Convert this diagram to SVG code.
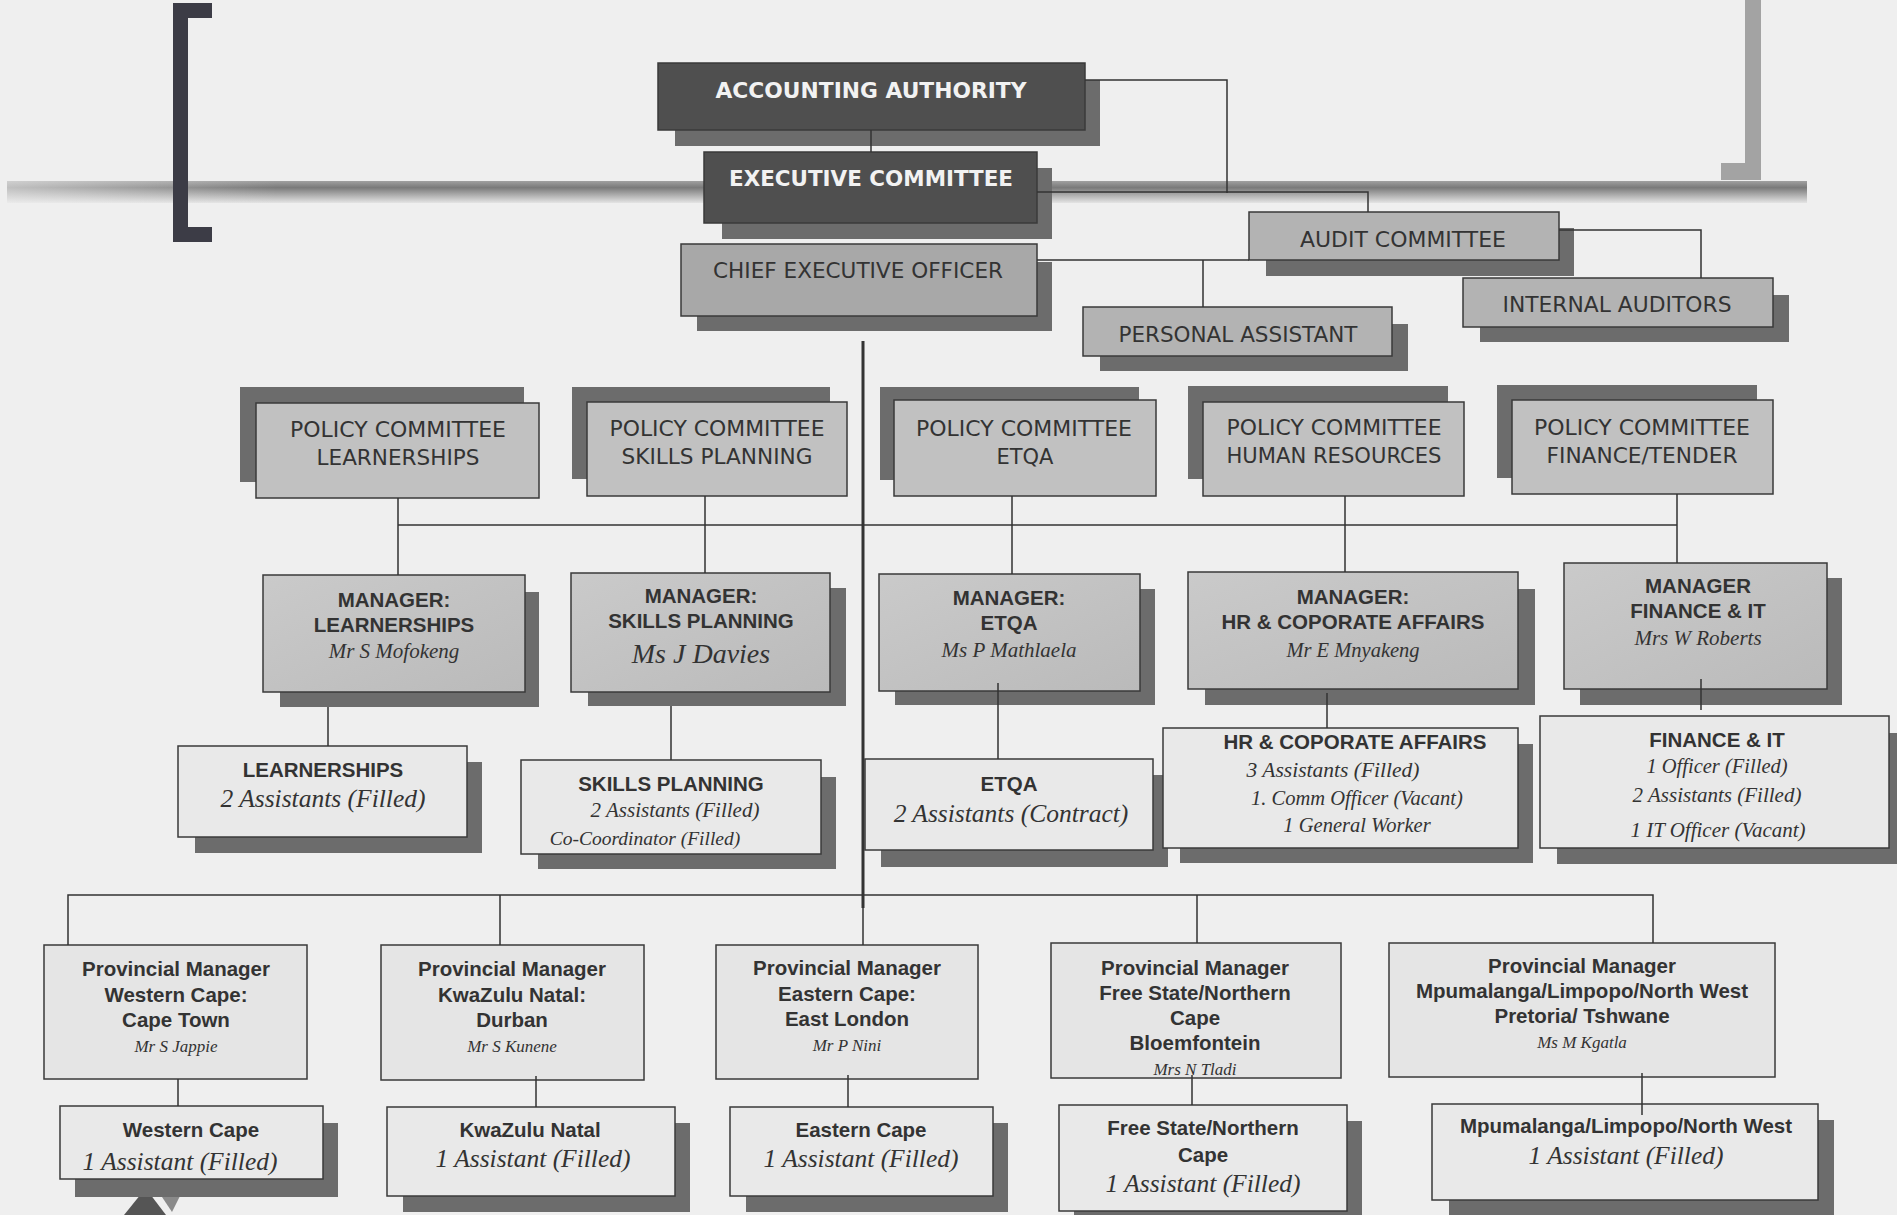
<svg xmlns="http://www.w3.org/2000/svg" width="1897" height="1215" viewBox="0 0 1897 1215">
<defs>
<linearGradient id="barG" x1="0" y1="0" x2="0" y2="1">
<stop offset="0" stop-color="#a0a0a0"/><stop offset="0.3" stop-color="#7a7a7a"/><stop offset="1" stop-color="#e4e4e4"/>
</linearGradient>
<linearGradient id="barFade" x1="0" y1="0" x2="1" y2="0">
<stop offset="0" stop-color="#efefef" stop-opacity="0.6"/><stop offset="0.15" stop-color="#efefef" stop-opacity="0"/>
</linearGradient>
<linearGradient id="mgG" x1="0" y1="0" x2="1" y2="1">
<stop offset="0" stop-color="#cacaca"/><stop offset="1" stop-color="#bababa"/>
</linearGradient>
<style>
.sh{fill:#6c6c6c}
.box{stroke:#3a3a3a;stroke-width:1.5}
.dk{fill:#4f4f4f}
.md{fill:#a8a8a8}
.au{fill:#b3b3b3}
.pc{fill:#c1c1c1}
.mg{fill:url(#mgG)}
.st{fill:#e9e9e9}
.pm{fill:#e5e5e5}
.tw{font-family:"DejaVu Sans","Liberation Sans",sans-serif;font-weight:bold;font-size:22px;fill:#f2f2f2;text-anchor:middle}
.tc{font-family:"DejaVu Sans","Liberation Sans",sans-serif;font-size:22px;fill:#333;text-anchor:middle}
.tb{font-family:"Liberation Sans",Arial,sans-serif;font-weight:bold;font-size:20.5px;fill:#333;text-anchor:middle}
.tp{font-family:"Liberation Sans",Arial,sans-serif;font-weight:bold;font-size:20.5px;fill:#333;text-anchor:middle}
.ti{font-family:"Liberation Serif","Times New Roman",serif;font-style:italic;fill:#333;text-anchor:middle}
.ln{fill:none;stroke:#333;stroke-width:1.5}
</style>
</defs>
<rect x="0" y="0" width="1897" height="1215" fill="#efefef"/>
<g id="decor">
<rect x="7" y="181" width="1800" height="22" fill="url(#barG)"/>
<rect x="7" y="181" width="1800" height="22" fill="url(#barFade)"/>
<path d="M173 3H212V18H188V227H212V242H173Z" fill="#3c3c46"/>
<path d="M1745 0H1761V180H1721V163H1745Z" fill="#a3a3a3"/>
<polygon points="141,1194 124,1215 166,1215 150,1194" fill="#555"/>
<polygon points="160,1194 181,1194 172,1212" fill="#8a8a8a"/>
</g>

<g id="n-aa">
<rect class="sh" x="675" y="80" width="425" height="66"/>
<rect class="box dk" x="658" y="63" width="427" height="67"/>
<text class="tw" x="871" y="98" textLength="311" lengthAdjust="spacingAndGlyphs">ACCOUNTING AUTHORITY</text>
</g>
<g id="n-ec">
<rect class="sh" x="722" y="168" width="330" height="71"/>
<rect class="box dk" x="704" y="152" width="333" height="71"/>
<text class="tw" x="871" y="186" textLength="284" lengthAdjust="spacingAndGlyphs">EXECUTIVE COMMITTEE</text>
</g>
<g id="n-ceo">
<rect class="sh" x="697" y="262" width="355" height="69"/>
<rect class="box md" x="681" y="244" width="356" height="72"/>
<text class="tc" x="858" y="278" textLength="290" lengthAdjust="spacingAndGlyphs">CHIEF EXECUTIVE OFFICER</text>
</g>
<g id="n-audit">
<rect class="sh" x="1266" y="228" width="308" height="48"/>
<rect class="box au" x="1249" y="212" width="310" height="48"/>
<text class="tc" x="1403" y="247" textLength="206" lengthAdjust="spacingAndGlyphs">AUDIT COMMITTEE</text>
</g>
<g id="n-ia">
<rect class="sh" x="1480" y="295" width="309" height="47"/>
<rect class="box au" x="1463" y="278" width="310" height="49"/>
<text class="tc" x="1617" y="312" textLength="229" lengthAdjust="spacingAndGlyphs">INTERNAL AUDITORS</text>
</g>
<g id="n-pa">
<rect class="sh" x="1100" y="324" width="308" height="47"/>
<rect class="box au" x="1083" y="307" width="309" height="49"/>
<text class="tc" x="1238" y="342" textLength="239" lengthAdjust="spacingAndGlyphs">PERSONAL ASSISTANT</text>
</g>

<g id="n-pc-learn">
<rect class="sh" x="240" y="387" width="284" height="95"/>
<rect class="box pc" x="256" y="403" width="283" height="95"/>
<text class="tc" x="398" y="437" textLength="216" lengthAdjust="spacingAndGlyphs">POLICY COMMITTEE</text>
<text class="tc" x="398" y="465" textLength="163" lengthAdjust="spacingAndGlyphs">LEARNERSHIPS</text>
</g>
<g id="n-pc-skills">
<rect class="sh" x="572" y="387" width="258" height="92"/>
<rect class="box pc" x="587" y="402" width="260" height="94"/>
<text class="tc" x="717" y="436" textLength="215" lengthAdjust="spacingAndGlyphs">POLICY COMMITTEE</text>
<text class="tc" x="717" y="464" textLength="191" lengthAdjust="spacingAndGlyphs">SKILLS PLANNING</text>
</g>
<g id="n-pc-etqa">
<rect class="sh" x="880" y="387" width="259" height="93"/>
<rect class="box pc" x="894" y="400" width="262" height="96"/>
<text class="tc" x="1024" y="436" textLength="216" lengthAdjust="spacingAndGlyphs">POLICY COMMITTEE</text>
<text class="tc" x="1025" y="464" textLength="57" lengthAdjust="spacingAndGlyphs">ETQA</text>
</g>
<g id="n-pc-hr">
<rect class="sh" x="1188" y="386" width="260" height="93"/>
<rect class="box pc" x="1203" y="402" width="261" height="94"/>
<text class="tc" x="1334" y="435" textLength="215" lengthAdjust="spacingAndGlyphs">POLICY COMMITTEE</text>
<text class="tc" x="1334" y="463" textLength="215" lengthAdjust="spacingAndGlyphs">HUMAN RESOURCES</text>
</g>
<g id="n-pc-fin">
<rect class="sh" x="1497" y="385" width="260" height="93"/>
<rect class="box pc" x="1512" y="400" width="261" height="94"/>
<text class="tc" x="1642" y="435" textLength="216" lengthAdjust="spacingAndGlyphs">POLICY COMMITTEE</text>
<text class="tc" x="1642" y="463" textLength="191" lengthAdjust="spacingAndGlyphs">FINANCE/TENDER</text>
</g>

<g id="n-m-learn">
<rect class="sh" x="280" y="592" width="259" height="115"/>
<rect class="box mg" x="263" y="575" width="262" height="117"/>
<text class="tb" x="394" y="607">MANAGER:</text>
<text class="tb" x="394" y="632">LEARNERSHIPS</text>
<text class="ti" x="394" y="658" font-size="21">Mr S Mofokeng</text>
</g>
<g id="n-m-skills">
<rect class="sh" x="588" y="588" width="258" height="118"/>
<rect class="box mg" x="571" y="573" width="259" height="119"/>
<text class="tb" x="701" y="603">MANAGER:</text>
<text class="tb" x="701" y="628">SKILLS PLANNING</text>
<text class="ti" x="701" y="663" font-size="28">Ms J Davies</text>
</g>
<g id="n-m-etqa">
<rect class="sh" x="895" y="589" width="260" height="116"/>
<rect class="box mg" x="879" y="574" width="261" height="117"/>
<text class="tb" x="1009" y="605">MANAGER:</text>
<text class="tb" x="1009" y="630">ETQA</text>
<text class="ti" x="1009" y="657" font-size="21">Ms P Mathlaela</text>
</g>
<g id="n-m-hr">
<rect class="sh" x="1205" y="589" width="330" height="116"/>
<rect class="box mg" x="1188" y="572" width="330" height="117"/>
<text class="tb" x="1353" y="604">MANAGER:</text>
<text class="tb" x="1353" y="629">HR &amp; COPORATE AFFAIRS</text>
<text class="ti" x="1353" y="657" font-size="20.5">Mr E Mnyakeng</text>
</g>
<g id="n-m-fin">
<rect class="sh" x="1580" y="578" width="262" height="127"/>
<rect class="box mg" x="1564" y="563" width="263" height="126"/>
<text class="tb" x="1698" y="593">MANAGER</text>
<text class="tb" x="1698" y="618">FINANCE &amp; IT</text>
<text class="ti" x="1698" y="645" font-size="21">Mrs W Roberts</text>
</g>

<g id="n-s-learn">
<rect class="sh" x="195" y="762" width="287" height="91"/>
<rect class="box st" x="178" y="746" width="289" height="91"/>
<text class="tb" x="323" y="777">LEARNERSHIPS</text>
<text class="ti" x="323" y="807" font-size="25.5">2 Assistants (Filled)</text>
</g>
<g id="n-s-skills">
<rect class="sh" x="538" y="777" width="298" height="92"/>
<rect class="box st" x="521" y="760" width="300" height="94"/>
<text class="tb" x="671" y="791">SKILLS PLANNING</text>
<text class="ti" x="675" y="817" font-size="21">2 Assistants (Filled)</text>
<text class="ti" x="645" y="845" font-size="19.5">Co-Coordinator (Filled)</text>
</g>
<g id="n-s-etqa">
<rect class="sh" x="881" y="775" width="287" height="92"/>
<rect class="box st" x="865" y="759" width="288" height="91"/>
<text class="tb" x="1009" y="791">ETQA</text>
<text class="ti" x="1011" y="822" font-size="25.5">2 Assistants (Contract)</text>
</g>
<g id="n-s-hr">
<rect class="sh" x="1180" y="744" width="353" height="119"/>
<rect class="box st" x="1163" y="728" width="355" height="120"/>
<text class="tb" x="1355" y="749">HR &amp; COPORATE AFFAIRS</text>
<text class="ti" x="1333" y="777" font-size="21.5">3 Assistants (Filled)</text>
<text class="ti" x="1357" y="805" font-size="20.5">1. Comm Officer (Vacant)</text>
<text class="ti" x="1357" y="832" font-size="20.5">1 General Worker</text>
</g>
<g id="n-s-fin">
<rect class="sh" x="1557" y="733" width="345" height="131"/>
<rect class="box st" x="1540" y="716" width="349" height="132"/>
<text class="tb" x="1717" y="747">FINANCE &amp; IT</text>
<text class="ti" x="1717" y="773" font-size="20.5">1 Officer (Filled)</text>
<text class="ti" x="1717" y="802" font-size="21">2 Assistants (Filled)</text>
<text class="ti" x="1718" y="837" font-size="21">1 IT Officer (Vacant)</text>
</g>

<g id="n-pm-wc">
<rect class="box pm" x="44" y="945" width="263" height="134"/>
<text class="tp" x="176" y="976">Provincial Manager</text>
<text class="tp" x="176" y="1002">Western Cape:</text>
<text class="tp" x="176" y="1027">Cape Town</text>
<text class="ti" x="176" y="1052" font-size="17">Mr S Jappie</text>
</g>
<g id="n-pm-kzn">
<rect class="box pm" x="381" y="945" width="263" height="135"/>
<text class="tp" x="512" y="976">Provincial Manager</text>
<text class="tp" x="512" y="1002">KwaZulu Natal:</text>
<text class="tp" x="512" y="1027">Durban</text>
<text class="ti" x="512" y="1052" font-size="17">Mr S Kunene</text>
</g>
<g id="n-pm-ec">
<rect class="box pm" x="716" y="945" width="262" height="134"/>
<text class="tp" x="847" y="975">Provincial Manager</text>
<text class="tp" x="847" y="1001">Eastern Cape:</text>
<text class="tp" x="847" y="1026">East London</text>
<text class="ti" x="847" y="1051" font-size="17">Mr P Nini</text>
</g>
<g id="n-pm-fs">
<rect class="box pm" x="1051" y="943" width="290" height="135"/>
<text class="tp" x="1195" y="975">Provincial Manager</text>
<text class="tp" x="1195" y="1000">Free State/Northern</text>
<text class="tp" x="1195" y="1025">Cape</text>
<text class="tp" x="1195" y="1050">Bloemfontein</text>
<text class="ti" x="1195" y="1075" font-size="17">Mrs N Tladi</text>
</g>
<g id="n-pm-mp">
<rect class="box pm" x="1389" y="943" width="386" height="134"/>
<text class="tp" x="1582" y="973">Provincial Manager</text>
<text class="tp" x="1582" y="998">Mpumalanga/Limpopo/North West</text>
<text class="tp" x="1582" y="1023">Pretoria/ Tshwane</text>
<text class="ti" x="1582" y="1048" font-size="17">Ms M Kgatla</text>
</g>

<g id="n-ps-wc">
<rect class="sh" x="75" y="1123" width="263" height="74"/>
<rect class="box st" x="60" y="1106" width="263" height="73"/>
<text class="tp" x="191" y="1137">Western Cape</text>
<text class="ti" x="180" y="1170" font-size="25.5">1 Assistant (Filled)</text>
</g>
<g id="n-ps-kzn">
<rect class="sh" x="403" y="1123" width="287" height="89"/>
<rect class="box st" x="387" y="1107" width="288" height="89"/>
<text class="tp" x="530" y="1137">KwaZulu Natal</text>
<text class="ti" x="533" y="1167" font-size="25.5">1 Assistant (Filled)</text>
</g>
<g id="n-ps-ec">
<rect class="sh" x="746" y="1123" width="262" height="89"/>
<rect class="box st" x="730" y="1107" width="263" height="89"/>
<text class="tp" x="861" y="1137">Eastern Cape</text>
<text class="ti" x="861" y="1167" font-size="25.5">1 Assistant (Filled)</text>
</g>
<g id="n-ps-fs">
<rect class="sh" x="1074" y="1121" width="288" height="100"/>
<rect class="box st" x="1059" y="1105" width="288" height="106"/>
<text class="tp" x="1203" y="1135">Free State/Northern</text>
<text class="tp" x="1203" y="1162">Cape</text>
<text class="ti" x="1203" y="1192" font-size="25.5">1 Assistant (Filled)</text>
</g>
<g id="n-ps-mp">
<rect class="sh" x="1449" y="1120" width="385" height="96"/>
<rect class="box st" x="1432" y="1104" width="386" height="96"/>
<text class="tp" x="1626" y="1133">Mpumalanga/Limpopo/North West</text>
<text class="ti" x="1626" y="1164" font-size="25.5">1 Assistant (Filled)</text>
</g>

<g id="connectors">
<path class="ln" d="M871 130V152"/>
<path class="ln" d="M1085 80H1227V193"/>
<path class="ln" d="M1037 192H1368V212"/>
<path class="ln" d="M1559 230H1701V278"/>
<path class="ln" d="M1037 260H1249M1203 260V307"/>
<path class="ln" d="M863 341V908" style="stroke-width:3"/>
<path class="ln" d="M863 908V945"/>
<path class="ln" d="M398 525H1677"/>
<path class="ln" d="M398 498V575M705 496V573M1012 496V574M1345 496V572M1677 494V563"/>
<path class="ln" d="M328 707V746M671 706V760M998 683V759M1327 693V728M1701 679V710"/>
<path class="ln" d="M68 945V895H1653V943M500 895V945M1197 895V943"/>
<path class="ln" d="M178 1079V1106M536 1076V1107M848 1075V1107M1192 1075V1105M1642 1073V1115"/>
</g>
</svg>
